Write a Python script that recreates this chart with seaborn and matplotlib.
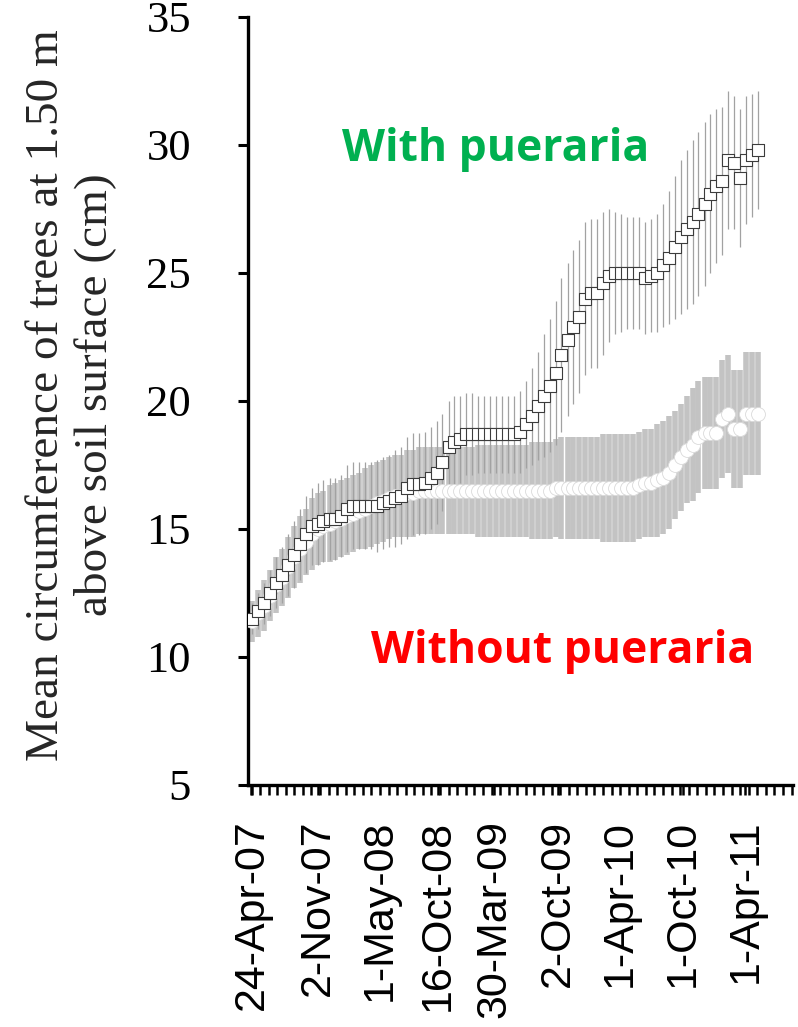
import numpy as np
import pandas as pd
import matplotlib
matplotlib.use("Agg")
import matplotlib.pyplot as plt
import matplotlib.dates as mdates
from matplotlib.ticker import MultipleLocator
import seaborn as sns

# ---------------- data ----------------
start_date = "2007-04-24"
day_offsets = [0, 17, 35, 52, 69, 87, 104, 121, 139, 156,
               174, 191, 208, 226, 243, 260, 278, 295, 312, 330,
               347, 364, 382, 399, 416, 434, 451, 468, 486, 503,
               521, 538, 555, 573, 590, 607, 625, 642, 659, 677,
               694, 711, 729, 746, 763, 781, 798, 815, 833, 850,
               868, 885, 902, 920, 937, 954, 972, 989, 1006, 1024,
               1041, 1058, 1076, 1093, 1110, 1128, 1145, 1162, 1180, 1197,
               1215, 1232, 1249, 1267, 1284, 1301, 1319, 1336, 1353, 1371,
               1388, 1405, 1423, 1440, 1457, 1475]

with_pueraria = [11.5, 11.8, 12.1, 12.5, 12.9, 13.2, 13.6, 14.0, 14.4, 14.8,
                 15.1, 15.2, 15.3, 15.4, 15.4, 15.5, 15.8, 15.9, 15.9, 15.9,
                 15.9, 15.9, 16.0, 16.1, 16.2, 16.3, 16.6, 16.75, 16.75, 16.8,
                 17.0, 17.2, 17.6, 18.2, 18.4, 18.5, 18.7, 18.7, 18.7, 18.7,
                 18.7, 18.7, 18.7, 18.7, 18.7, 18.8, 19.1, 19.4, 19.8, 20.2,
                 20.6, 21.1, 21.8, 22.4, 22.9, 23.3, 24.0, 24.2, 24.2, 24.6,
                 24.9, 25.0, 25.0, 25.0, 25.0, 25.0, 24.8, 24.9, 25.0, 25.3,
                 25.6, 26.0, 26.4, 26.7, 27.0, 27.3, 27.7, 28.1, 28.4, 28.6,
                 29.4, 29.3, 28.7, 29.4, 29.6, 29.8]
with_err = [0.6, 0.7, 0.8, 0.9, 1.0, 1.1, 1.2, 1.3, 1.4, 1.5,
            1.5, 1.6, 1.6, 1.6, 1.6, 1.6, 1.7, 1.7, 1.7, 1.7,
            1.7, 1.8, 1.8, 1.8, 1.9, 1.9, 2.0, 2.0, 2.0, 2.0,
            2.0, 2.0, 1.9, 1.8, 1.8, 1.7, 1.6, 1.6, 1.5, 1.5,
            1.5, 1.5, 1.5, 1.5, 1.5, 1.6, 1.7, 1.9, 2.1, 2.4,
            2.6, 2.8, 3.0, 3.0, 3.0, 3.0, 3.0, 2.9, 2.9, 2.8,
            2.6, 2.4, 2.3, 2.2, 2.2, 2.2, 2.2, 2.2, 2.3, 2.4,
            2.6, 2.8, 3.0, 3.1, 3.2, 3.2, 3.2, 3.1, 3.0, 2.9,
            2.7, 2.6, 2.7, 2.5, 2.4, 2.3]

without_pueraria = [11.4, 11.7, 12.0, 12.4, 12.8, 13.1, 13.5, 13.9, 14.2, 14.5,
                    14.8, 15.0, 15.1, 15.2, 15.3, 15.4, 15.5, 15.6, 15.7, 15.8,
                    15.9, 16.0, 16.1, 16.2, 16.3, 16.3, 16.4, 16.4, 16.5, 16.5,
                    16.5, 16.5, 16.5, 16.5, 16.5, 16.5, 16.5, 16.5, 16.5, 16.5,
                    16.5, 16.5, 16.5, 16.5, 16.5, 16.5, 16.5, 16.5, 16.5, 16.5,
                    16.5, 16.6, 16.6, 16.6, 16.6, 16.6, 16.6, 16.6, 16.6, 16.6,
                    16.6, 16.6, 16.6, 16.6, 16.6, 16.7, 16.8, 16.8, 16.9, 17.0,
                    17.2, 17.5, 17.8, 18.1, 18.3, 18.6, 18.75, 18.75, 18.75, 19.3,
                    19.5, 18.9, 18.9, 19.5, 19.5, 19.5]
without_err = [0.8, 0.9, 1.0, 1.0, 1.1, 1.1, 1.2, 1.2, 1.3, 1.3,
               1.4, 1.4, 1.4, 1.5, 1.5, 1.5, 1.5, 1.5, 1.5, 1.6,
               1.6, 1.6, 1.6, 1.6, 1.6, 1.6, 1.7, 1.7, 1.7, 1.7,
               1.7, 1.7, 1.7, 1.7, 1.7, 1.7, 1.7, 1.7, 1.8, 1.8,
               1.8, 1.8, 1.8, 1.8, 1.8, 1.8, 1.8, 1.9, 1.9, 1.9,
               1.9, 1.9, 2.0, 2.0, 2.0, 2.0, 2.0, 2.0, 2.0, 2.1,
               2.1, 2.1, 2.1, 2.1, 2.1, 2.1, 2.1, 2.1, 2.2, 2.2,
               2.2, 2.1, 2.1, 2.1, 2.2, 2.2, 2.2, 2.2, 2.2, 2.3,
               2.3, 2.3, 2.3, 2.4, 2.4, 2.4]

tick_dates = ["2007-04-24", "2007-11-02", "2008-05-01", "2008-10-16", "2009-03-30",
              "2009-10-02", "2010-04-01", "2010-10-01", "2011-04-01"]
tick_labels = ["24-Apr-07", "2-Nov-07", "1-May-08", "16-Oct-08", "30-Mar-09",
               "2-Oct-09", "1-Apr-10", "1-Oct-10", "1-Apr-11"]
y_ticks = [5, 10, 15, 20, 25, 30, 35]

label_with = "With pueraria"
label_without = "Without pueraria"
y_title = "Mean circumference of trees at 1.50 m\nabove soil surface (cm)"

# ---------------- frame ----------------
dates = pd.Timestamp(start_date) + pd.to_timedelta(day_offsets, unit="D")
df_with = pd.DataFrame({"date": dates, "value": with_pueraria, "err": with_err})
df_without = pd.DataFrame({"date": dates, "value": without_pueraria, "err": without_err})

sns.set_style("white")
plt.rcParams["font.family"] = ["Liberation Serif", "DejaVu Serif"]

W, H = 798, 1027
fig = plt.figure(figsize=(W / 100, H / 100), dpi=100)
ax = fig.add_axes([248 / W, 1 - 785 / H, (793 - 248) / W, (785 - 17) / H])

# error bars
ax.errorbar(df_without["date"], df_without["value"], yerr=df_without["err"], fmt="none",
            ecolor="#c3c3c3", elinewidth=4.0, capsize=0, zorder=1)
ax.errorbar(df_with["date"], df_with["value"], yerr=df_with["err"], fmt="none",
            ecolor="#a2a2a2", elinewidth=0.9, capsize=0, zorder=2)

# markers
sns.scatterplot(data=df_without, x="date", y="value", ax=ax, marker="o", s=100,
                color="white", edgecolor="#dadada", linewidth=0.6, zorder=3)
sns.scatterplot(data=df_with, x="date", y="value", ax=ax, marker="s", s=68,
                color="white", edgecolor="#3c3c3c", linewidth=0.8, zorder=4)

# axes
ax.set_ylim(5, 35)
ax.set_xlim(pd.Timestamp("2007-04-12"), pd.Timestamp("2011-08-18"))
ax.set_yticks(y_ticks)
ax.set_yticklabels([str(v) for v in y_ticks], fontsize=32, family="Liberation Serif")
ax.set_xticks(pd.to_datetime(tick_dates))
ax.set_xticklabels(tick_labels, rotation=90, fontsize=31, family="Liberation Sans")
ax.xaxis.set_minor_locator(MultipleLocator(25))
ax.tick_params(axis="y", which="major", direction="out", left=True, length=7, width=2.2,
               pad=34, colors="black")
ax.tick_params(axis="x", which="both", direction="out", bottom=True, length=7, width=1.8,
               pad=18, colors="black")
ax.set_xlabel("")
ax.set_ylabel("")
for side in ["top", "right"]:
    ax.spines[side].set_visible(False)
for side in ["left", "bottom"]:
    ax.spines[side].set_color("black")
    ax.spines[side].set_linewidth(2.4)
ax.grid(False)

fig.text(71 / W, 1 - 395 / H, y_title, rotation=90, ha="center", va="center",
         multialignment="center", fontsize=34, family="Liberation Serif", linespacing=1.15)

fig.text(496 / W, 1 - 150 / H, label_with, ha="center", va="center", fontsize=32,
         fontweight="bold", color="#00b050", family="Open Sans")
fig.text(563 / W, 1 - 652 / H, label_without, ha="center", va="center", fontsize=32,
         fontweight="bold", color="#ff0000", family="Open Sans")

fig.savefig("out.png", dpi=100, facecolor="white")
